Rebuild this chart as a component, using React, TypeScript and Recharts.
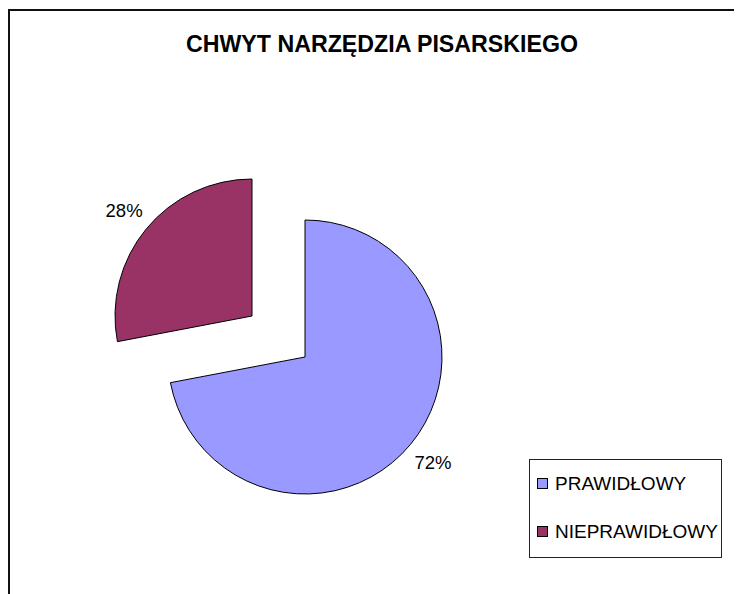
import React from "react";
import { PieChart, Pie, Cell, Legend } from "recharts";

// data
const categories = ["PRAWIDŁOWY", "NIEPRAWIDŁOWY"];
const values = [72, 28];
const colors = ["#9999FF", "#993366"];

const pieData = categories.map((name, i) => ({ name, value: values[i] }));

const RAD = Math.PI / 180;
const FONT = "'Liberation Sans', Arial, sans-serif";

// label only for the slice drawn by that pie
const makeLabel = (show: number) => (props: any) => {
  const { cx, cy, midAngle, outerRadius, percent, index } = props;
  if (index !== show) return null;
  const r = outerRadius + 29;
  const x = cx + r * Math.cos(-midAngle * RAD);
  const y = cy + r * Math.sin(-midAngle * RAD);
  return (
    <text
      x={x}
      y={y}
      textAnchor="middle"
      dominantBaseline="central"
      fill="#000"
      fontSize={18.5}
      fontFamily={FONT}
    >
      {`${Math.round(percent * 100)}%`}
    </text>
  );
};

const LegendBox = () => (
  <div
    style={{
      position: "relative",
      width: 191,
      height: 97,
      border: "1px solid #222",
      fontFamily: FONT,
      fontSize: 19,
      lineHeight: "19px",
      color: "#000",
    }}
  >
    {categories.map((name, i) => (
      <React.Fragment key={name}>
        <div
          style={{
            position: "absolute",
            left: 7,
            top: 18 + i * 48,
            width: 9,
            height: 9,
            background: colors[i],
            border: "1px solid #000",
          }}
        />
        <div
          style={{
            position: "absolute",
            left: 25,
            top: 13.5 + i * 48,
            whiteSpace: "nowrap",
          }}
        >
          {name}
        </div>
      </React.Fragment>
    ))}
  </div>
);

export default function App() {
  return (
    <div
      style={{
        position: "relative",
        marginTop: 1,
        width: 732,
        height: 583,
        borderLeft: "2px solid #111",
        borderTop: "2px solid #111",
        overflow: "hidden",
        background: "#fff",
      }}
    >
      <div
        style={{
          position: "absolute",
          left: 72,
          top: 21.5,
          width: 600,
          textAlign: "center",
          fontFamily: FONT,
          fontWeight: "bold",
          fontSize: 23.2,
          lineHeight: "23px",
          color: "#000",
        }}
      >
        CHWYT NARZĘDZIA PISARSKIEGO
      </div>
      <PieChart width={732} height={583} margin={{ top: 0, right: 0, bottom: 0, left: 0 }}>
        <Pie
          data={pieData}
          dataKey="value"
          nameKey="name"
          cx={295}
          cy={346}
          outerRadius={137}
          startAngle={90}
          endAngle={-270}
          label={makeLabel(0)}
          labelLine={false}
          isAnimationActive={false}
        >
          {pieData.map((d, i) => (
            <Cell
              key={d.name}
              fill={i === 0 ? colors[i] : "none"}
              stroke={i === 0 ? "#000" : "none"}
              strokeWidth={1}
            />
          ))}
        </Pie>
        <Pie
          data={pieData}
          dataKey="value"
          nameKey="name"
          cx={242}
          cy={305}
          outerRadius={137}
          startAngle={90}
          endAngle={-270}
          label={makeLabel(1)}
          labelLine={false}
          legendType="none"
          isAnimationActive={false}
        >
          {pieData.map((d, i) => (
            <Cell
              key={d.name}
              fill={i === 1 ? colors[i] : "none"}
              stroke={i === 1 ? "#000" : "none"}
              strokeWidth={1}
            />
          ))}
        </Pie>
        <Legend
          content={() => <LegendBox />}
          wrapperStyle={{ position: "absolute", left: 519, top: 448, width: 193, height: 99 }}
        />
      </PieChart>
    </div>
  );
}
